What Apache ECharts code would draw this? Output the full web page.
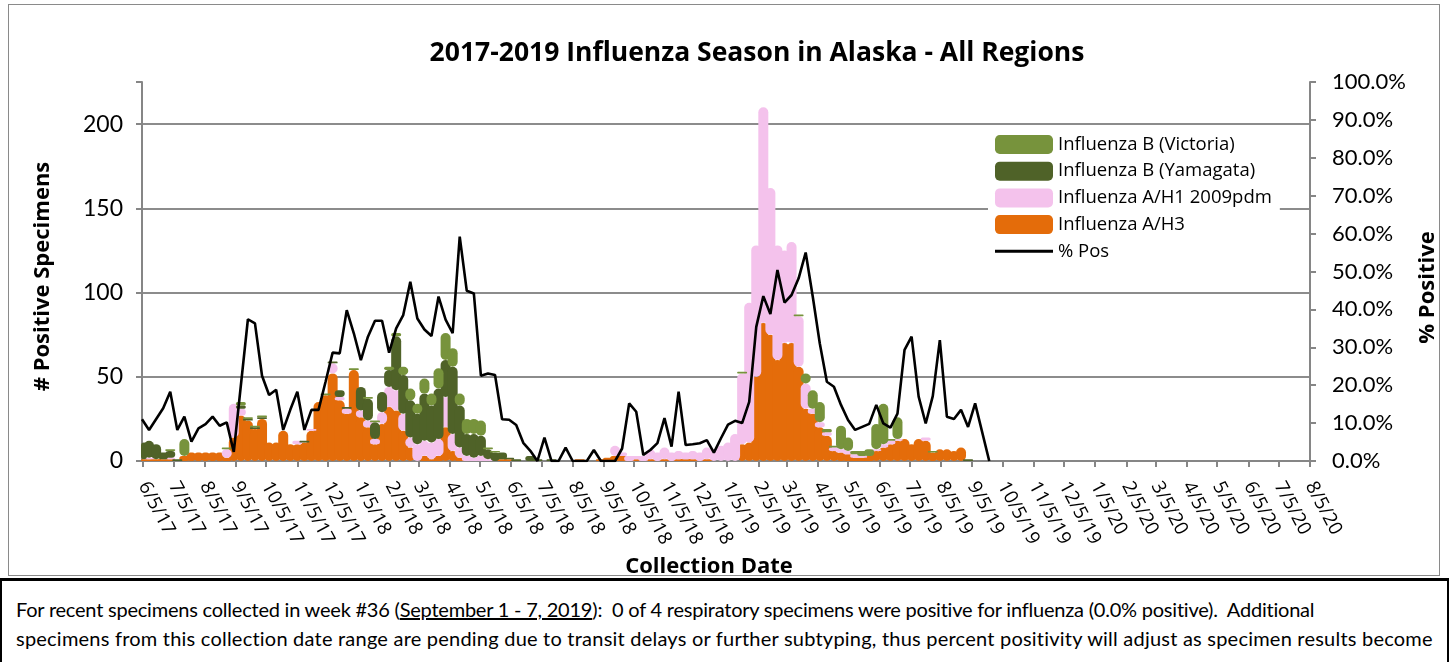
<!DOCTYPE html>
<html><head><meta charset="utf-8">
<script src="https://cdn.jsdelivr.net/npm/echarts@6/dist/echarts.min.js"></script>
<style>
html,body{margin:0;padding:0;background:#fff;width:1449px;height:662px;overflow:hidden;font-family:Lato,'Open Sans',sans-serif;}
#frame{position:absolute;left:8px;top:4px;width:1432px;height:572px;border:1px solid #8a8a8a;box-sizing:border-box;}
#chart{position:absolute;left:0;top:0;width:1449px;height:578px;}
#sep{position:absolute;left:0;top:578px;width:1449px;height:3px;background:#000;}
#foot{position:absolute;left:0;top:581px;width:1449px;height:81px;border-left:2px solid #000;border-right:2px solid #000;box-sizing:border-box;}
#foot p{margin:0;position:absolute;left:14px;font-size:20px;line-height:24px;white-space:nowrap;color:#000;}
</style></head>
<body>
<div id="frame"></div>
<div id="chart"></div>
<div id="sep"></div>
<div id="foot">
<p style="top:16px;letter-spacing:-0.22px">For recent specimens collected in week #36 (<u>September 1 - 7, 2019</u>):&nbsp; 0 of 4 respiratory specimens were positive for influenza (0.0% positive).&nbsp; Additional</p>
<p style="top:45px;letter-spacing:0.22px">specimens from this collection date range are pending due to transit delays or further subtyping, thus percent positivity will adjust as specimen results become</p>
</div>
<script>
// week start dates (Sundays)
const weeks = [
'6/4/17','6/11/17','6/18/17','6/25/17','7/2/17','7/9/17','7/16/17','7/23/17','7/30/17','8/6/17','8/13/17','8/20/17','8/27/17','9/3/17','9/10/17','9/17/17','9/24/17','10/1/17','10/8/17','10/15/17','10/22/17','10/29/17','11/5/17','11/12/17','11/19/17','11/26/17','12/3/17','12/10/17','12/17/17','12/24/17','12/31/17',
'1/7/18','1/14/18','1/21/18','1/28/18','2/4/18','2/11/18','2/18/18','2/25/18','3/4/18','3/11/18','3/18/18','3/25/18','4/1/18','4/8/18','4/15/18','4/22/18','4/29/18','5/6/18','5/13/18','5/20/18','5/27/18','6/3/18','6/10/18','6/17/18','6/24/18','7/1/18','7/8/18','7/15/18','7/22/18','7/29/18','8/5/18','8/12/18','8/19/18','8/26/18','9/2/18','9/9/18','9/16/18','9/23/18','9/30/18','10/7/18','10/14/18','10/21/18','10/28/18','11/4/18','11/11/18','11/18/18','11/25/18','12/2/18','12/9/18','12/16/18','12/23/18','12/30/18',
'1/6/19','1/13/19','1/20/19','1/27/19','2/3/19','2/10/19','2/17/19','2/24/19','3/3/19','3/10/19','3/17/19','3/24/19','3/31/19','4/7/19','4/14/19','4/21/19','4/28/19','5/5/19','5/12/19','5/19/19','5/26/19','6/2/19','6/9/19','6/16/19','6/23/19','6/30/19','7/7/19','7/14/19','7/21/19','7/28/19','8/4/19','8/11/19','8/18/19','8/25/19','9/1/19','9/8/19','9/15/19','9/22/19'];

const fluH3 = [1,1,1,1,1,0,3,5,5,5,5,5,2,14,27,24,19,25,11,11,18,
10,10,11,18,35,39,52,36,28,54,26,20,10,22,32,30,18,8,0,3,
1,3,20,6,2,0,0,0,0,0,1,1,0,0,0,0,0,0,0,0,
0,1,0,0,1,2,3,3,0,1,0,1,0,1,0,1,1,1,0,1,
0,0,0,0,10,11,50,82,75,60,70,70,56,31,28,20,15,6,5,4,
2,2,3,6,8,10,12,13,10,13,12,5,7,7,6,8,0,0,0,0];

const fluH1 = [0,1,0,0,1,0,0,0,0,0,0,0,5,20,4,0,0,0,0,0,0,
0,2,0,1,0,0,6,2,3,0,4,4,3,7,12,12,10,6,10,9,
10,10,18,10,6,3,2,3,1,0,0,0,0,0,0,0,0,0,0,0,
0,0,0,0,0,0,6,2,3,2,3,6,5,7,5,5,4,5,5,7,
7,9,11,16,42,83,78,128,87,68,55,60,30,15,3,3,2,2,2,2,
2,1,0,1,2,2,1,0,0,0,2,0,0,0,0,0,0,0,0,0];

const fluBYam = [10,10,9,4,4,1,0,0,0,0,0,0,0,0,2,1,1,1,0,0,0,
0,0,1,0,0,0,1,4,1,0,14,13,10,12,10,32,23,22,18,28,
22,30,22,40,25,13,14,12,6,5,4,1,1,0,3,1,0,1,0,0,
0,0,0,0,0,0,0,0,0,0,0,0,0,0,0,0,0,0,0,0,
0,0,0,0,0,0,0,0,0,0,0,0,0,0,0,0,0,0,0,0,
0,0,0,0,0,0,0,0,0,0,0,0,0,0,0,0,1,0,0,0];

const fluBVic = [0,0,0,0,1,0,10,0,0,0,0,0,1,0,2,1,1,1,0,0,0,
0,0,0,0,0,1,0,0,0,1,0,1,1,0,2,2,5,7,6,9,
7,12,16,11,7,9,9,9,1,1,0,0,0,0,0,0,0,0,0,0,
0,0,0,0,0,0,0,0,0,0,0,0,0,0,0,0,0,0,0,0,
0,0,0,0,1,0,0,0,0,0,0,0,1,6,11,12,2,1,14,8,
2,3,4,15,24,1,13,0,0,0,0,1,0,0,0,0,0,0,0,0];

const pctPos = [11.0,8.2,null,13.9,18.3,8.2,11.7,5.1,8.6,9.7,11.7,9.3,10.2,2.4,null,37.4,36.3,22.5,17.4,18.8,8.2,
13.5,18.3,8.2,13.5,13.5,20.9,28.6,28.4,39.8,33.7,26.6,32.8,37.0,37.0,28.6,35.0,38.5,47.3,37.6,34.7,
33.0,43.4,37.3,33.7,59.2,44.9,44.2,22.5,23.1,22.7,11.0,10.9,9.5,4.8,2.7,0,6.2,0,0,3.5,
0,0,0,2.9,0,0,0,3.3,15.2,13.0,1.6,2.9,4.7,11.3,3.8,18.3,4.2,4.4,4.7,5.5,
2.2,6.0,9.6,10.6,10.0,15.6,35.4,43.5,38.8,50.4,41.8,43.8,48.2,55.0,43.4,31.0,20.9,19.6,14.8,10.8,
8.2,9.0,9.8,14.8,9.9,8.8,12.5,29.3,32.8,17.0,9.9,17.1,31.9,11.7,11.1,13.5,9.0,15.2,null,0];

const tickLabels = ['6/5/17','7/5/17','8/5/17','9/5/17','10/5/17','11/5/17','12/5/17','1/5/18','2/5/18','3/5/18','4/5/18','5/5/18','6/5/18','7/5/18','8/5/18','9/5/18','10/5/18','11/5/18','12/5/18','1/5/19','2/5/19','3/5/19','4/5/19','5/5/19','6/5/19','7/5/19','8/5/19','9/5/19','10/5/19','11/5/19','12/5/19','1/5/20','2/5/20','3/5/20','4/5/20','5/5/20','6/5/20','7/5/20','8/5/20'];

const seriesNames = ['Influenza A/H3','Influenza A/H1 2009pdm','Influenza B (Yamagata)','Influenza B (Victoria)'];
const colors = ['#E46C0A','#F4C2EC','#4F6228','#77933C'];

// daily date axis (one category per day) from first week to last tick
function ts(s){const p=s.split('/').map(Number);return Date.UTC(2000+p[2],p[0]-1,p[1]);}
function fmt(t){const d=new Date(t);return (d.getUTCMonth()+1)+'/'+d.getUTCDate()+'/'+String(d.getUTCFullYear()).slice(2);}
const days = [];
for (let t = ts(weeks[0]); t <= ts(tickLabels[tickLabels.length-1]); t += 86400000) days.push(fmt(t));
const tickSet = new Set(tickLabels);

const FONT = '"Open Sans", Lato, sans-serif';
const LFONT = 'Lato, "Open Sans", sans-serif';
const chart = echarts.init(document.getElementById('chart'));
const barSets = [fluH3, fluH1, fluBYam, fluBVic];
const series = barSets.map((arr,si)=>({
  name: seriesNames[si], type:'bar', stack:'flu', barWidth:10, yAxisIndex:0,
  itemStyle:{color:colors[si], borderRadius:5},
  data: weeks.map((w,i)=>[w, arr[i]])
}));
series.push({
  name:'% Pos', type:'line', yAxisIndex:1, symbol:'none', connectNulls:true, z:10,
  lineStyle:{color:'#000', width:2.6}, itemStyle:{color:'#000'},
  data: weeks.map((w,i)=>[w, pctPos[i]])
});

chart.setOption({
  animation:false,
  textStyle:{fontFamily:FONT},
  title:{text:'2017-2019 Influenza Season in Alaska - All Regions', left:752, textAlign:'center', top:35,
    textStyle:{fontSize:26.5, fontWeight:'bold', color:'#000', fontFamily:FONT}},
  grid:{left:142, right:139, top:82, bottom:117, containLabel:false, outerBoundsMode:'none'},
  legend:{
    data:['Influenza B (Victoria)','Influenza B (Yamagata)','Influenza A/H1 2009pdm','Influenza A/H3',
      {name:'% Pos', icon:'path://M0,0h0.01v0.01h-0.01z M0,8h58v3h-58z M0,18.99h0.01v0.01h-0.01z'}],
    orient:'vertical', left:988, top:131, itemWidth:58, itemHeight:19, itemGap:7.7,
    backgroundColor:'#fff', padding:[4,8,4,7],
    textStyle:{fontSize:18.5, color:'#000', fontFamily:FONT}
  },
  xAxis:{
    type:'category', data:days, boundaryGap:false,
    axisLine:{lineStyle:{color:'#868686', width:2}},
    axisTick:{show:true, interval:(i,v)=>tickSet.has(v), length:6, lineStyle:{color:'#868686', width:2}},
    axisLabel:{interval:(i,v)=>tickSet.has(v), rotate:-62, fontSize:19, color:'#000', margin:22, fontFamily:FONT},
    splitLine:{show:false},
    name:'Collection Date', nameLocation:'middle', nameGap:95,
    nameTextStyle:{fontSize:22, fontWeight:'bold', color:'#000', fontFamily:FONT, padding:[0,34,0,0]}
  },
  yAxis:[{
    type:'value', min:0, max:225, interval:50, position:'left',
    axisLine:{show:true, lineStyle:{color:'#868686', width:2}},
    axisTick:{show:true, length:6, lineStyle:{color:'#868686', width:2}},
    axisLabel:{fontSize:23, color:'#000', margin:19, fontFamily:LFONT, formatter:v=>(v%50===0?String(v):'')},
    splitLine:{show:true, lineStyle:{color:['#8c8c8c','#8c8c8c','#8c8c8c','#8c8c8c','#8c8c8c','rgba(0,0,0,0)'], width:2}},
    name:'# Positive Specimens', nameLocation:'middle', nameGap:88, nameRotate:90,
    nameTextStyle:{fontSize:22, fontWeight:'bold', color:'#000', fontFamily:FONT, padding:[0,10,0,0]}
  },{
    type:'value', min:0, max:100, interval:10, position:'right',
    axisLine:{show:true, lineStyle:{color:'#868686', width:2}},
    axisTick:{show:true, length:6, lineStyle:{color:'#868686', width:2}},
    axisLabel:{fontSize:22, color:'#000', margin:22, fontFamily:LFONT, formatter:v=>v.toFixed(1)+'%'},
    splitLine:{show:false},
    name:'% Positive', nameLocation:'middle', nameGap:100, nameRotate:90,
    nameTextStyle:{fontSize:22, fontWeight:'bold', color:'#000', fontFamily:FONT, padding:[0,32,0,0]}
  }],
  series: series
});
</script>
</body></html>
